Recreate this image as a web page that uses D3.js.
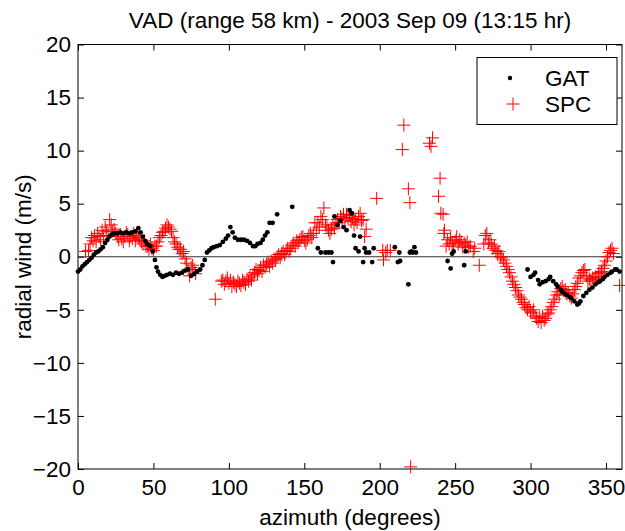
<!DOCTYPE html>
<html><head><meta charset="utf-8">
<script src="https://cdn.jsdelivr.net/npm/d3@7"></script>
<style>body{margin:0;background:#fff}svg{display:block}text{font-family:"Liberation Sans",Arial,sans-serif}</style>
</head><body><svg id="c" width="625" height="531"></svg>
<script>
const title = "VAD (range 58 km) - 2003 Sep 09 (13:15 hr)";
const xLabel = "azimuth (degrees)";
const yLabel = "radial wind (m/s)";
const xTicks = [0,50,100,150,200,250,300,350];
const yTicks = [-20,-15,-10,-5,0,5,10,15,20];
const seriesNames = ["GAT","SPC"];

const gatAz = [0,1.5,3,4.5,6,7.5,9,10.5,12,13.5,15,16.5,18,19.5,21,22.5,24,26,28,30,32,34,36,38,40,41.5,43,44.5,46,48,49.5,51,52,53,54.5,56,57.5,59,61,63,65,67,69,71,73,75,77,79,81,82.5,84,85.5,87,88.5,90,92,94,96,98,99.5,101,102.5,104,106,108,110,112,114,116,117.5,119,121,122.5,124,125.5,127,129,132,142,159,161,164,166,168,169,170,172,174,176,178,180,181.5,183,184,186,187,189,190,191,193,195,196,210,212,213,213.5,219,220,221,222,223,224,245,247,248,249,256,257,298,300,302,303,305,306,308,310,312,313,315,317,318,320,321,323,324,326,327,329,331,332,333,335,337,339,341,343,345,346,348,349,351,353,354,356,357,359];
const gatV = [-1.4,-1.2,-0.9,-0.7,-0.5,-0.3,-0.1,0.2,0.4,0.5,0.7,0.9,1.3,1.6,1.9,2.1,2.2,2.2,2.3,2.2,2.3,2.2,2.3,2.4,2.7,2.3,1.9,1.5,1.2,1.0,0.5,-0.3,-1.0,-1.4,-1.7,-1.9,-1.8,-1.7,-1.6,-1.7,-1.5,-1.6,-1.5,-1.3,-1.2,-1.8,-1.6,-1.4,-1.2,-0.8,-0.3,0.4,0.6,0.8,0.9,1.0,1.1,1.4,1.7,2.0,2.8,2.3,1.8,1.6,1.6,1.6,1.5,1.3,1.0,1.0,1.2,1.3,1.6,2.0,2.3,3.2,3.2,4.0,4.7,0.8,0.4,0.4,0.4,0.4,-0.5,3.8,3.0,3.4,2.8,2.5,4.4,4.1,2.0,0.8,0.5,1.9,-0.5,0.8,0.4,0.4,-0.5,0.8,0.9,-0.5,0.4,-0.4,-2.6,0.4,0.5,0.4,0.9,0.4,-0.4,-1.1,0.3,0.5,-0.8,0.5,-1.2,-1.9,-1.7,-1.5,-2.2,-2.6,-2.4,-2.3,-2.1,-1.9,-2.3,-2.6,-2.8,-3.1,-3.3,-3.5,-3.6,-3.8,-3.9,-4.2,-4.5,-4.4,-4.2,-3.7,-3.4,-3.1,-2.9,-2.6,-2.4,-2.3,-2.1,-1.9,-1.7,-1.5,-1.4,-1.2,-1.2,-1.4];

const spcAz = [5,7,8,9,10,11,12,13,14,15,16,17,18,19,20,21,22,23,24,25,26,27,28,29,30,31,32,33,34,35,36,37,38,39,40,41,42,43,44,45,46,47,48,49,50,51,52,53,54,55,56,57,58,59,60,61,62,63,64,65,66,67,68,69,70,71,72,73,74,75,76,77,78,91,95,96,97,98,99,100,101,102,103,104,105,106,107,108,109,110,111,112,113,114,115,116,117,118,119,120,121,122,123,124,125,126,127,128,129,130,131,132,133,134,135,136,137,138,139,140,141,142,143,144,145,146,147,148,149,150,151,152,153,154,155,156,157,158,159,160,161,162,163,164,165,166,167,168,169,170,171,172,173,174,175,176,177,178,179,180,181,182,183,184,185,186,187,188,189,190,191,198,202,202.5,204,205,207,215,216,219,220,220.5,233,234,235,239,240,240.5,242,242.5,243,244,245,246,247,248,249,250,251,252,253,254,255,256,257,258,259,260,262,263,266,269,270,271,272,273,274,275,276,277,278,279,280,281,282,283,284,285,286,287,288,289,290,291,292,293,294,295,296,297,298,299,300,301,302,303,304,305,306,307,308,309,310,311,312,313,314,315,316,317,318,319,320,321,322,323,324,325,326,327,328,329,330,331,332,333,334,335,336,337,338,339,340,341,342,343,344,345,346,347,348,349,350,351,352,353,354,355,359];
const spcV = [0.5,0.6,1.2,1.8,1.5,2.0,1.4,2.2,1.9,1.6,2.5,2.0,2.8,2.4,2.0,3.5,3.0,2.4,2.6,2.2,1.9,1.6,2.1,1.7,1.4,1.9,2.3,2.1,1.5,1.9,1.7,2.2,1.5,2.0,1.8,1.6,1.4,1.2,1.5,1.0,1.0,0.7,1.2,0.8,0.6,1.0,1.0,1.4,1.8,2.0,2.3,2.4,2.7,3.0,2.8,2.6,2.4,1.8,1.4,1.2,0.9,0.7,0.7,0.3,0.5,-0.2,-0.6,-1.2,-1.8,-1.0,-0.8,-1.2,-1.6,-4.0,-2.3,-2.2,-2.6,-2.3,-2.0,-2.5,-2.2,-2.8,-2.4,-2.6,-2.8,-2.3,-2.5,-2.7,-2.2,-2.4,-2.6,-2.1,-2.3,-1.9,-2.2,-1.7,-1.5,-1.2,-1.6,-1.3,-1.0,-1.4,-0.8,-1.0,-0.7,-0.5,-0.9,-0.4,-0.6,-0.2,-0.3,0.0,0.2,-0.1,0.3,0.5,0.2,0.6,0.8,0.5,0.8,1.1,1.3,1.0,1.5,1.3,1.6,1.8,1.9,1.5,1.3,1.6,2.0,2.2,1.8,2.2,3.2,2.5,3.2,2.8,3.8,3.5,4.6,3.0,2.8,2.5,2.2,2.6,3.0,2.7,3.2,3.5,3.2,3.8,3.6,4.0,3.4,4.0,3.7,3.9,3.3,3.6,3.0,3.5,3.2,3.8,4.1,3.4,3.5,1.9,2.6,5.5,0.6,-0.3,0.4,0.6,0.6,10.1,12.4,6.4,5.1,-19.8,10.7,10.4,11.2,5.7,7.4,4.1,4.0,2.2,2.5,1.0,1.6,1.2,1.8,1.3,1.0,1.5,1.9,1.2,1.6,1.4,0.9,1.3,1.1,1.4,0.9,1.0,0.5,0.8,-0.8,1.2,2.0,2.2,1.3,1.6,1.2,0.8,1.0,0.6,0.3,0.5,0.0,-0.1,-0.3,-0.6,-0.9,-1.2,-1.5,-1.9,-2.3,-2.6,-2.9,-3.2,-3.6,-3.8,-4.0,-4.3,-4.5,-4.8,-5.0,-4.7,-5.2,-5.3,-5.0,-5.6,-5.8,-6.1,-5.7,-6.2,-5.6,-6.0,-5.8,-5.4,-5.3,-5.0,-4.7,-4.3,-4.0,-3.6,-3.3,-3.6,-3.0,-2.8,-3.2,-3.1,-3.5,-3.4,-3.7,-3.9,-3.5,-3.1,-2.8,-2.5,-2.0,-1.8,-1.5,-1.3,-1.2,-1.8,-2.3,-2.1,-2.2,-2.0,-2.1,-1.9,-1.9,-1.6,-1.5,-1.4,-1.1,-0.8,-0.4,0.0,0.4,0.6,0.8,0.3,-2.7];

const svg = d3.select("#c");
const L=78, R=622, T=44.5, B=469;
const x = d3.scaleLinear().domain([0,360.6]).range([L,R]);
const y = d3.scaleLinear().domain([-20,20]).range([B,T]);
const fs = 22.5;

const axB = svg.append("g").attr("transform",`translate(0,${B})`)
  .call(d3.axisBottom(x).tickValues(xTicks).tickSizeInner(-6).tickSizeOuter(0).tickPadding(10));
const axT = svg.append("g").attr("transform",`translate(0,${T})`)
  .call(d3.axisTop(x).tickValues(xTicks).tickSizeInner(-6).tickSizeOuter(0).tickFormat(""));
const axL = svg.append("g").attr("transform",`translate(${L},0)`)
  .call(d3.axisLeft(y).tickValues(yTicks).tickSizeInner(-6).tickSizeOuter(0).tickPadding(7));
const axR = svg.append("g").attr("transform",`translate(${R},0)`)
  .call(d3.axisRight(y).tickValues(yTicks).tickSizeInner(-6).tickSizeOuter(0).tickFormat(""));
[axB,axT,axL,axR].forEach(a=>{
  a.select(".domain").remove();
  a.selectAll("line").attr("stroke","#000").attr("stroke-width",1);
  a.selectAll("text").attr("font-size",fs).attr("fill","#000").style("font-family","Liberation Sans, Arial, sans-serif");
});
axB.selectAll("text").attr("dy","0.71em");
svg.append("rect").attr("x",L).attr("y",T).attr("width",R-L).attr("height",B-T)
  .attr("fill","none").attr("stroke","#000").attr("stroke-width",1);

svg.append("line").attr("x1",x(0)).attr("x2",x(360.6)).attr("y1",y(0)).attr("y2",y(0))
  .attr("stroke","#333").attr("stroke-width",1);

const gat = gatAz.map((a,i)=>[a,gatV[i]]);
const spc = spcAz.map((a,i)=>[a,spcV[i]]);
const h = 6.5;
svg.append("g").selectAll("path").data(spc).join("path")
  .attr("d",d=>`M${x(d[0])-h},${y(d[1])}H${x(d[0])+h}M${x(d[0])},${y(d[1])-h}V${y(d[1])+h}`)
  .attr("stroke","#ff0000").attr("stroke-width",1).attr("fill","none");
svg.append("g").selectAll("circle").data(gat).join("circle")
  .attr("cx",d=>x(d[0])).attr("cy",d=>y(d[1])).attr("r",2.4).attr("fill","#000");

svg.append("text").attr("x",350).attr("y",28).attr("text-anchor","middle").attr("font-size",fs).text(title);
svg.append("text").attr("x",350).attr("y",525).attr("text-anchor","middle").attr("font-size",fs).text(xLabel);
svg.append("text").attr("transform",`translate(31,${(T+B)/2}) rotate(-90)`).attr("text-anchor","middle").attr("font-size",fs).text(yLabel);

const lg = svg.append("g");
lg.append("rect").attr("x",477).attr("y",57.5).attr("width",140).attr("height",67).attr("fill","#fff").attr("stroke","#000");
lg.append("circle").attr("cx",510).attr("cy",78).attr("r",2.2).attr("fill","#000");
lg.append("path").attr("d",`M${513-h},104H${513+h}M513,${104-h}V${104+h}`).attr("stroke","#ff0000").attr("fill","none");
lg.append("text").attr("x",545).attr("y",86).attr("font-size",fs).text(seriesNames[0]);
lg.append("text").attr("x",545).attr("y",112).attr("font-size",fs).text(seriesNames[1]);
</script></body></html>
